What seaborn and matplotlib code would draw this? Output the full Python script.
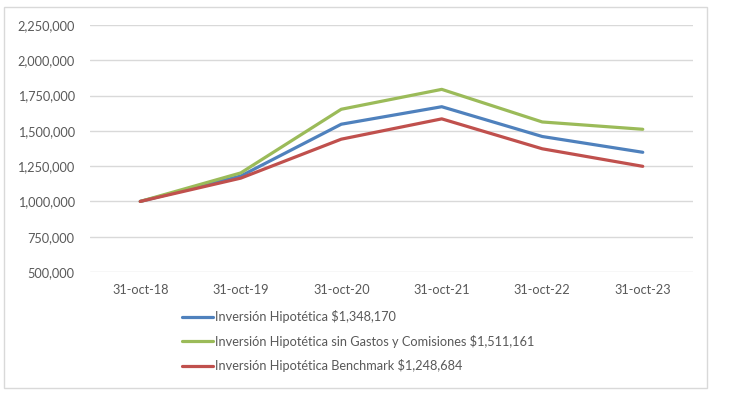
import seaborn as sns
import matplotlib.pyplot as plt
import pandas as pd
from matplotlib.patches import Rectangle
from matplotlib.ticker import FuncFormatter

# values
fechas = ["31-oct-18", "31-oct-19", "31-oct-20", "31-oct-21", "31-oct-22", "31-oct-23"]
inversion = [1000000, 1180000, 1547000, 1671000, 1460000, 1348170]
sin_gastos = [1000000, 1202000, 1653000, 1794000, 1563000, 1511161]
benchmark = [1000000, 1165000, 1441000, 1585000, 1373000, 1248684]

series_names = [
    "Inversión Hipotética $1,348,170",
    "Inversión Hipotética sin Gastos y Comisiones $1,511,161",
    "Inversión Hipotética Benchmark $1,248,684",
]
colors = ["#4F81BD", "#9BBB59", "#C0504D"]

df = pd.DataFrame({
    "fecha": fechas * 3,
    "valor": inversion + sin_gastos + benchmark,
    "serie": [series_names[0]] * 6 + [series_names[1]] * 6 + [series_names[2]] * 6,
})

sns.set_style("white")
plt.rcParams["font.family"] = ["Lato", "DejaVu Sans"]

fig = plt.figure(figsize=(7.29, 4.08), dpi=100)
ax = fig.add_axes([90 / 729, 1 - 272 / 408, 603 / 729, 247 / 408])

sns.lineplot(data=df, x="fecha", y="valor", hue="serie", palette=colors,
             linewidth=2.3, sort=False, ax=ax, legend=False)

ax.set_xlim(-0.5, 5.5)
ax.set_ylim(500000, 2250000)
ax.set_yticks(range(500000, 2250001, 250000))
ax.yaxis.set_major_formatter(FuncFormatter(lambda v, p: f"{int(v):,}"))
ax.grid(axis="y", color="#D9D9D9", linewidth=1)
ax.set_axisbelow(True)
for s in ax.spines.values():
    s.set_visible(False)
ax.tick_params(axis="both", length=0, labelsize=9.2, colors="#595959")
ax.tick_params(axis="x", pad=9)
ax.tick_params(axis="y", pad=11)
ax.set_xlabel("")
ax.set_ylabel("")

handles = [plt.Line2D([], [], color=c, linewidth=2.3) for c in colors]
fig.legend(handles, series_names, loc="upper left",
           bbox_to_anchor=(177 / 729, 1 - 305 / 408), frameon=False,
           fontsize=9.2, handlelength=2.4, handletextpad=0.15,
           labelspacing=0.9, labelcolor="#595959", borderaxespad=0)

fig.patches.append(Rectangle((4 / 729, 1 - 388 / 408), 703 / 729, 381 / 408,
                             transform=fig.transFigure, fill=False,
                             edgecolor="#D9D9D9", linewidth=1))

fig.savefig("out.png", dpi=100)
